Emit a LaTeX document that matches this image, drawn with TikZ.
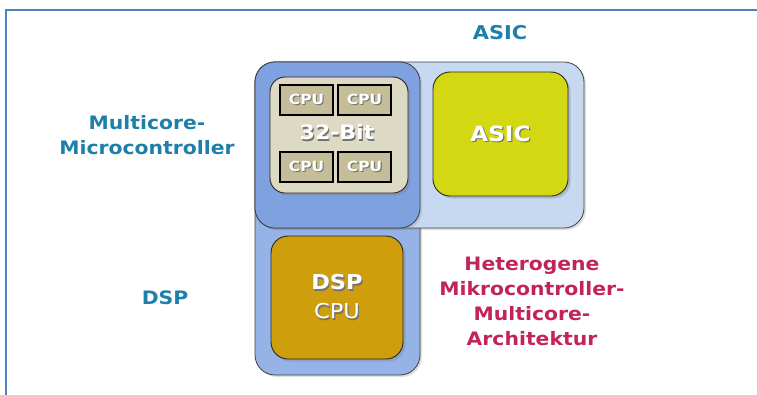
\documentclass[tikz,border=0pt]{standalone}
\usepackage{fontspec}
\newfontfamily\labfont[FakeStretch=1.1]{DejaVu Sans}
\usetikzlibrary{shadows}

\definecolor{frameblue}{HTML}{4F81BD}
\definecolor{asicregion}{HTML}{C6D9F1}
\definecolor{mcregion}{HTML}{7FA1E0}
\definecolor{dspregion}{HTML}{95B3E7}
\definecolor{bitbeige}{HTML}{DDD9C3}
\definecolor{cpukhaki}{HTML}{C4BD97}
\definecolor{asicyellow}{HTML}{D4D812}
\definecolor{dspgold}{HTML}{CE9E0D}
\definecolor{labteal}{HTML}{1E7FAA}
\definecolor{labcrimson}{HTML}{C2245A}

% white text with a small grey shadow
\newcommand{\shtext}[1]{\rlap{\hspace{1.2pt}\raisebox{-1.2pt}{\color{black!55}#1}}#1}

\tikzset{
  region/.style={draw=black!75, line width=0.8pt, rounded corners=20pt,
    drop shadow={shadow xshift=2pt, shadow yshift=-2pt, opacity=0.25}},
  chip/.style={draw=black!85, line width=0.9pt, rounded corners=17pt,
    inner sep=0pt, text=white, align=center,
    drop shadow={shadow xshift=2.5pt, shadow yshift=-2.5pt, opacity=0.35}},
  cpubox/.style={draw=black, line width=1.4pt, fill=cpukhaki,
    minimum width=53pt, minimum height=30pt, inner sep=0pt,
    text=white, font=\labfont\bfseries\fontsize{14}{15}\selectfont},
  caption/.style={inner sep=0pt, align=center,
    font=\labfont\bfseries\fontsize{18.5}{25.5}\selectfont}
}

\begin{document}
\begin{tikzpicture}[x=1pt, y=-1pt]
  \useasboundingbox (0,0) rectangle (757,394);
  % frame of the slide
  \draw[frameblue, line width=1.5pt] (6,420) -- (6,10) -- (780,10);

  % overlapping regions
  \draw[region, fill=dspregion] (255,62) rectangle (420,375);
  \draw[region, fill=asicregion] (255,62) rectangle (584,228);
  \draw[region, fill=mcregion, drop shadow={opacity=0}] (255,62) rectangle (420,228);

  % 32-bit multicore block
  \node[chip, fill=bitbeige, text width=138pt, minimum height=116pt,
        rounded corners=15pt] (bit) at (339,135) {};
  \node[text=white, inner sep=0pt, font=\labfont\bfseries\fontsize{20}{21}\selectfont]
        (bittext) at (337,133) {\shtext{32-Bit}};
  \foreach \cx/\cy/\nm in {306.5/100/cputl, 364.5/100/cputr,
                           306.5/167/cpubl, 364.5/167/cpubr}{%
    \node[cpubox] (\nm) at (\cx,\cy) {\shtext{CPU}};
  }

  % ASIC block
  \node[chip, fill=asicyellow, minimum width=135pt, minimum height=124pt,
        font=\labfont\bfseries\fontsize{21}{22}\selectfont]
        (asic) at (500.5,134) {\shtext{ASIC}};

  % DSP block
  \node[chip, fill=dspgold, minimum width=132pt, minimum height=123pt,
        font=\labfont\fontsize{20.5}{29}\selectfont]
        (dsp) at (337,297.5) {{\bfseries\shtext{DSP}}\\[0pt]\shtext{CPU}};

  % captions
  \node[caption, text=labteal, font=\labfont\bfseries\fontsize{19}{20}\selectfont]
        (asiclab) at (500,33) {ASIC};
  \node[caption, text=labteal] (mclab) at (147,135) {Multicore-\\Microcontroller};
  \node[caption, text=labteal] (dsplab) at (165,298) {DSP};
  \node[caption, text=labcrimson, font=\labfont\bfseries\fontsize{18.5}{25}\selectfont]
        (heterolab) at (532,301) {Heterogene\\Mikrocontroller-\\Multicore-\\Architektur};
\end{tikzpicture}
\end{document}
